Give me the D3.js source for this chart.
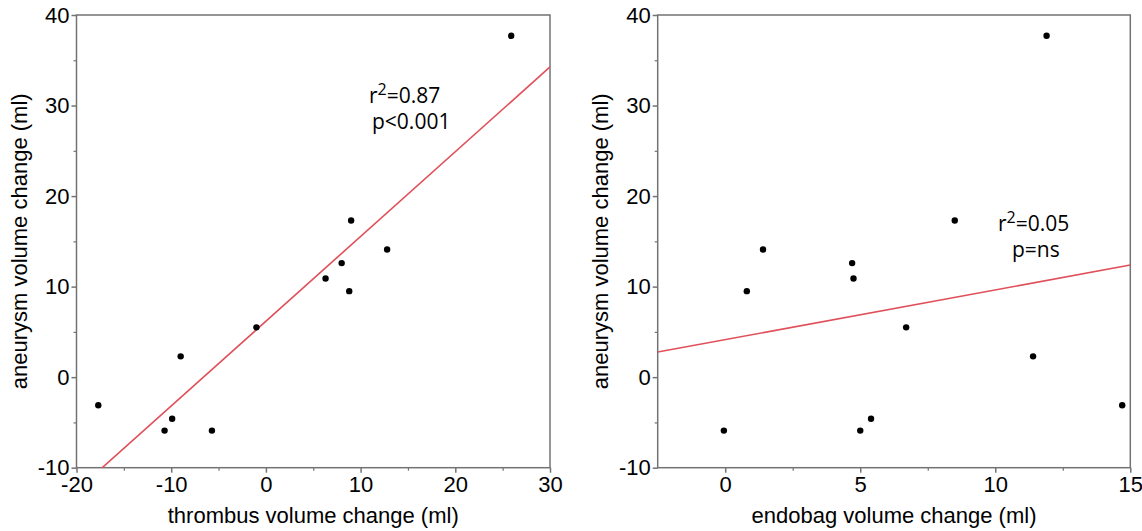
<!DOCTYPE html>
<html>
<head>
<meta charset="utf-8">
<script src="https://cdn.jsdelivr.net/npm/d3@7"></script>
<style>
  body { margin: 0; background: #fff; }
  svg text { font-family: "Liberation Sans", Arial, sans-serif; }
  .note { font-family: "Open Sans", sans-serif; }
</style>
</head>
<body>
<div id="chart"></div>
<script>
// aneurysm volume change (ml), same cases in both panels
const aneurysm = [37.7, 17.3, 14.1, 12.6, 10.9, 9.5, 5.5, 2.3, -3.1, -4.6, -5.9, -5.9];
// thrombus volume change (ml)
const thrombus = [25.9, 9.0, 12.8, 8.0, 6.3, 8.8, -1.0, -9.0, -17.7, -9.9, -10.7, -5.7];
// endobag volume change (ml)
const endobag = [11.9, 8.5, 1.4, 4.7, 4.75, 0.8, 6.7, 11.4, 14.7, 5.4, 5.0, -0.05];

// fitted lines
const fitLeft = {slope: 0.936, intercept: 6.18};
const fitRight = {slope: 0.549, intercept: 4.15};

const yTicks = [-10, 0, 10, 20, 30, 40];
const yMinor = [-5, 5, 15, 25, 35];
const xTicksLeft = [-20, -10, 0, 10, 20, 30];
const xMinorLeft = [-15, -5, 5, 15, 25];
const xTicksRight = [0, 5, 10, 15];
const xMinorRight = [2.5, 7.5, 12.5];

const w = 1142, h = 531;

const svg = d3.select('#chart').append('svg')
    .attr('width', w)
    .attr('height', h);

const panels = [
  {id: 'a', left: 76.5, right: 550, xs: thrombus, xDomain: [-20, 30], ticks: xTicksLeft, minor: xMinorLeft,
   fit: fitLeft, xLabel: 'thrombus volume change (ml)',
   notes: [{x: 369, y: 103, r: '0.87'}, {x: 372, y: 129, t: 'p<0.001'}]},
  {id: 'b', left: 657.7, right: 1130.3, xs: endobag, xDomain: [-2.5, 15], ticks: xTicksRight, minor: xMinorRight,
   fit: fitRight, xLabel: 'endobag volume change (ml)',
   notes: [{x: 998, y: 231, r: '0.05'}, {x: 1012, y: 257, t: 'p=ns'}]}
];

const plotTop = 15, plotBottom = 467.7;
const axisColor = '#737373';
const fmt = d => String(d);

panels.forEach(p => {
  const x = d3.scaleLinear().domain(p.xDomain).range([p.left, p.right]);
  const y = d3.scaleLinear().domain([-10, 40]).range([plotBottom, plotTop]);

  const g = svg.append('g');

  // minor ticks
  g.append('g')
      .attr('transform', 'translate(0,' + plotBottom + ')')
      .call(d3.axisBottom(x).tickValues(p.minor).tickSize(3).tickFormat(''))
      .call(a => a.select('.domain').remove())
      .call(a => a.selectAll('line').attr('stroke', axisColor).attr('stroke-width', 1.2));
  g.append('g')
      .attr('transform', 'translate(' + p.left + ',0)')
      .call(d3.axisLeft(y).tickValues(yMinor).tickSize(3).tickFormat(''))
      .call(a => a.select('.domain').remove())
      .call(a => a.selectAll('line').attr('stroke', axisColor).attr('stroke-width', 1.2));

  // major axes
  g.append('g')
      .attr('transform', 'translate(0,' + plotBottom + ')')
      .call(d3.axisBottom(x).tickValues(p.ticks).tickSize(5).tickPadding(4).tickFormat(fmt))
      .call(a => a.select('.domain').remove())
      .call(a => a.selectAll('line').attr('stroke', axisColor).attr('stroke-width', 1.5))
      .call(a => a.selectAll('text').attr('font-size', 22).attr('fill', '#000')
          .attr('font-family', '"Liberation Sans", Arial, sans-serif'));
  g.append('g')
      .attr('transform', 'translate(' + p.left + ',0)')
      .call(d3.axisLeft(y).tickValues(yTicks).tickSize(5).tickPadding(2).tickFormat(fmt))
      .call(a => a.select('.domain').remove())
      .call(a => a.selectAll('line').attr('stroke', axisColor).attr('stroke-width', 1.5))
      .call(a => a.selectAll('text').attr('font-size', 22).attr('fill', '#000')
          .attr('font-family', '"Liberation Sans", Arial, sans-serif'));

  // frame
  g.append('rect')
      .attr('x', p.left).attr('y', plotTop)
      .attr('width', p.right - p.left).attr('height', plotBottom - plotTop)
      .attr('fill', 'none')
      .attr('stroke', axisColor)
      .attr('stroke-width', 1.5);

  // clip for fit line
  svg.append('clipPath').attr('id', 'clip-' + p.id)
    .append('rect')
      .attr('x', p.left).attr('y', plotTop)
      .attr('width', p.right - p.left).attr('height', plotBottom - plotTop);

  const line = d3.line().x(d => x(d)).y(d => y(p.fit.intercept + p.fit.slope * d));
  g.append('path')
      .datum(p.xDomain)
      .attr('clip-path', 'url(#clip-' + p.id + ')')
      .attr('d', line)
      .attr('fill', 'none')
      .attr('stroke', '#e0505a')
      .attr('stroke-width', 1.6);

  // points
  g.selectAll('.dot')
      .data(aneurysm)
      .enter()
      .append('circle')
      .attr('class', 'dot')
      .attr('cx', (d, i) => x(p.xs[i]))
      .attr('cy', d => y(d))
      .attr('r', 3.2)
      .attr('fill', '#000');

  // axis titles
  g.append('text')
      .text(p.xLabel)
      .attr('x', (p.left + p.right) / 2)
      .attr('y', 523)
      .attr('text-anchor', 'middle')
      .attr('font-size', 22)
      .attr('fill', '#000');
  g.append('text')
      .text('aneurysm volume change (ml)')
      .attr('transform', 'translate(' + (p.left - 50) + ',' + ((plotTop + plotBottom) / 2) + ') rotate(-90)')
      .attr('text-anchor', 'middle')
      .attr('font-size', 22)
      .attr('fill', '#000');

  // r2 and p annotations
  p.notes.forEach(n => {
    const t = g.append('text')
        .attr('class', 'note')
        .attr('x', n.x)
        .attr('y', n.y)
        .attr('font-size', 21)
        .attr('fill', '#000');
    if (n.r) {
      t.append('tspan').text('r');
      t.append('tspan').text('2').attr('dy', -8).attr('font-size', 16);
      t.append('tspan').text('=' + n.r).attr('dy', 8);
    } else {
      t.text(n.t);
    }
  });
});
</script>
</body>
</html>
